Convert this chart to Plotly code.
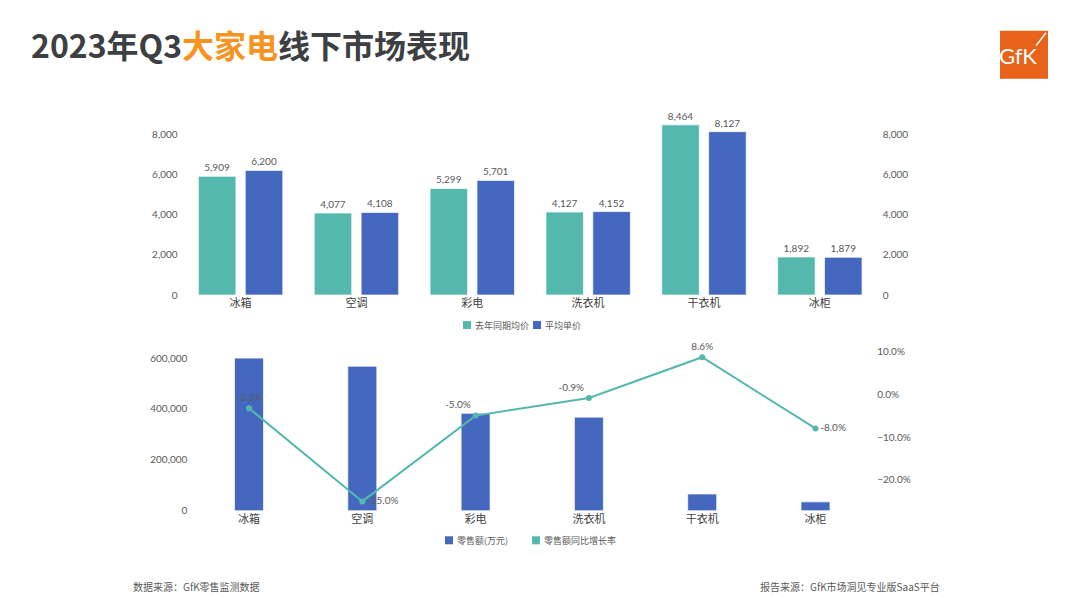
import plotly.graph_objects as go

# ---------------- data ----------------
categories = ["冰箱", "空调", "彩电", "洗衣机", "干衣机", "冰柜"]
price_last_year = [5909, 4077, 5299, 4127, 8464, 1892]   # 去年同期均价
price_avg = [6200, 4108, 5701, 4152, 8127, 1879]          # 平均单价
sales_amount = [600000, 568000, 383000, 368000, 66000, 35000]  # 零售额(万元)
sales_yoy = [-0.033, -0.25, -0.05, -0.009, 0.086, -0.08]      # 零售额同比增长率
yoy_text_pos = ["top center", "middle right", "top left", "top left", "top center", "middle right"]

series_names_top = ["去年同期均价", "平均单价"]
series_names_bottom = ["零售额(万元)", "零售额同比增长率"]

TEAL = "#55B8AE"
BLUE = "#4468C0"
GREY = "#595959"
FONT = "Lato, 'Noto Sans CJK SC', sans-serif"
CJK = "'Noto Sans CJK SC', sans-serif"

W, H = 1080, 608
OFFX = 8  # page body margin offset


def px(x):
    return (x - OFFX) / W


def py(y):
    yy = (y + 0.6) / 0.989
    return 1 - (yy - 8) / H


fig = go.Figure()

# top chart: grouped price bars
fig.add_trace(go.Bar(
    x=categories, y=price_last_year, name=series_names_top[0],
    xaxis="x", yaxis="y",
    marker=dict(color=TEAL, line=dict(color="rgba(255,255,255,0.7)", width=1)),
    width=0.324, offset=-0.364,
    text=price_last_year, texttemplate="%{y:,}", textposition="outside",
    textfont=dict(size=10, color=GREY, family=FONT), cliponaxis=False,
    showlegend=False,
))
fig.add_trace(go.Bar(
    x=categories, y=price_avg, name=series_names_top[1],
    xaxis="x", yaxis="y3",
    marker=dict(color=BLUE, line=dict(color="rgba(255,255,255,0.7)", width=1)),
    width=0.324, offset=0.041,
    text=price_avg, texttemplate="%{y:,}", textposition="outside",
    textfont=dict(size=10, color=GREY, family=FONT), cliponaxis=False,
    showlegend=False,
))

# bottom chart: sales bars + yoy line
fig.add_trace(go.Bar(
    x=categories, y=sales_amount, name=series_names_bottom[0],
    xaxis="x2", yaxis="y2",
    marker=dict(color=BLUE, line=dict(color="rgba(255,255,255,0.7)", width=1)),
    width=0.256,
    showlegend=False,
))
fig.add_trace(go.Scatter(
    x=categories, y=sales_yoy, name=series_names_bottom[1],
    xaxis="x2", yaxis="y4", mode="lines+markers+text",
    line=dict(color=TEAL, width=2), marker=dict(color=TEAL, size=6),
    text=[f"{v*100:.1f}%" for v in sales_yoy], textposition=yoy_text_pos,
    textfont=dict(size=10, color=GREY, family=FONT), cliponaxis=False,
    showlegend=False,
))

tickfont = dict(size=10, color=GREY, family=FONT)
catfont = dict(size=11, color="#404040", family=CJK)

# target pixel geometry (reference image)
top_bottom_px, top_top_px = 294, 112
top_max = (top_bottom_px - top_top_px) / 0.02008
bot_bottom_px, bot_top_px = 509.5, 338
left_max = (bot_bottom_px - bot_top_px) / 50.83 * 200000
right_min = -(bot_bottom_px - 393) / 4.286 / 100
right_max = (393 - bot_top_px) / 4.286 / 100

fig.update_layout(
    width=W, height=H,
    margin=dict(l=0, r=0, t=0, b=0),
    paper_bgcolor="white", plot_bgcolor="white",
    barmode="group",
    showlegend=False,
    font=dict(family=FONT, color=GREY),
    xaxis=dict(domain=[px(182.6), px(877.7)], anchor="y", type="category",
               showgrid=False, zeroline=False, showline=False, ticks="",
               tickfont=catfont),
    yaxis=dict(domain=[py(top_bottom_px), py(top_top_px)], anchor="x",
               range=[0, top_max], tickvals=[0, 2000, 4000, 6000, 8000],
               tickformat=",", showgrid=False, zeroline=False, showline=False,
               tickfont=tickfont, ticklabelstandoff=4),
    yaxis3=dict(overlaying="y", side="right", anchor="x",
                range=[0, top_max], tickvals=[0, 2000, 4000, 6000, 8000],
                tickformat=",", showgrid=False, zeroline=False, showline=False,
                tickfont=tickfont, ticklabelstandoff=4),
    xaxis2=dict(domain=[px(192.35), px(872.15)], anchor="y2", type="category",
                showgrid=False, zeroline=False, showline=False, ticks="",
                tickfont=catfont),
    yaxis2=dict(domain=[py(bot_bottom_px), py(bot_top_px)], anchor="x2",
                range=[0, left_max], tickvals=[0, 200000, 400000, 600000],
                tickformat=",", showgrid=False, zeroline=False, showline=False,
                tickfont=tickfont, ticklabelstandoff=4),
    yaxis4=dict(overlaying="y2", side="right", anchor="x2",
                range=[right_min, right_max], tickvals=[-0.2, -0.1, 0, 0.1],
                tickformat=".1%", showgrid=False, zeroline=False, showline=False,
                tickfont=tickfont, ticklabelstandoff=4),
)

annotations = []
shapes = []

# title
annotations.append(dict(
    xref="paper", yref="paper", x=px(29), y=py(43), xanchor="left", yanchor="middle",
    text="<b>2023年Q3<span style='color:#F7931E'>大家电</span>线下市场表现</b>",
    showarrow=False, font=dict(size=32, color="#3C4043", family=CJK),
))

# GfK logo
shapes.append(dict(type="rect", xref="paper", yref="paper",
                   x0=px(1000), x1=px(1048), y0=py(78), y1=py(30),
                   fillcolor="#E8621A", line=dict(width=0)))
shapes.append(dict(type="line", xref="paper", yref="paper",
                   x0=px(1036), y0=py(45), x1=px(1046), y1=py(32),
                   line=dict(color="white", width=1.5)))
annotations.append(dict(
    xref="paper", yref="paper", x=px(1018), y=py(55), xanchor="center", yanchor="middle",
    text="GfK", showarrow=False, font=dict(size=22, color="white", family="Lato, sans-serif"),
))


# manual legends
def legend_item(x_sq, y_c, color, label):
    shapes.append(dict(type="rect", xref="paper", yref="paper",
                       x0=px(x_sq), x1=px(x_sq + 8), y0=py(y_c + 4), y1=py(y_c - 4),
                       fillcolor=color, line=dict(width=0)))
    annotations.append(dict(
        xref="paper", yref="paper", x=px(x_sq + 10), y=py(y_c), xanchor="left", yanchor="middle",
        text=label, showarrow=False, font=dict(size=9, color=GREY, family=CJK),
    ))


legend_item(463, 324, TEAL, series_names_top[0])
legend_item(533, 324, BLUE, series_names_top[1])
legend_item(445, 539, BLUE, series_names_bottom[0])
legend_item(532, 539, TEAL, series_names_bottom[1])

# footers
annotations.append(dict(
    xref="paper", yref="paper", x=px(131), y=py(585), xanchor="left", yanchor="middle",
    text="数据来源：GfK零售监测数据", showarrow=False,
    font=dict(size=10, color=GREY, family=CJK),
))
annotations.append(dict(
    xref="paper", yref="paper", x=px(942), y=py(585), xanchor="right", yanchor="middle",
    text="报告来源：GfK市场洞见专业版SaaS平台", showarrow=False,
    font=dict(size=10, color=GREY, family=CJK),
))

fig.update_layout(annotations=annotations, shapes=shapes)

fig.write_html("out.html")
